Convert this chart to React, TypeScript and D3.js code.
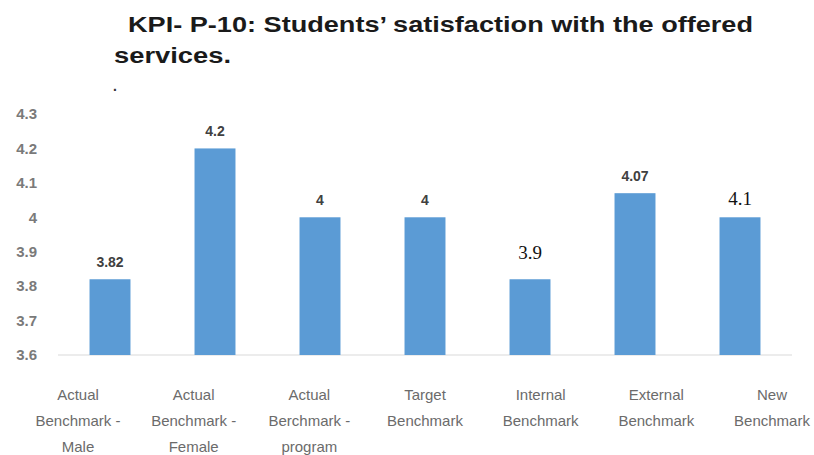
import React from "react";
import * as d3 from "d3";

const categories: string[][] = [
  ["Actual", "Benchmark -", "Male"],
  ["Actual", "Benchmark -", "Female"],
  ["Actual", "Berchmark -", "program"],
  ["Target", "Benchmark"],
  ["Internal", "Benchmark"],
  ["External", "Benchmark"],
  ["New", "Benchmark"],
];
const barValues: number[] = [3.82, 4.2, 4.0, 4.0, 3.82, 4.07, 4.0];
const labelTexts: string[] = ["3.82", "4.2", "4", "4", "3.9", "4.07", "4.1"];
const serifLabel: boolean[] = [false, false, false, false, true, false, true];
const yTicks: number[] = [3.6, 3.7, 3.8, 3.9, 4.0, 4.1, 4.2, 4.3];

export default function App() {
  const W = 814, H = 455;
  const idx = d3.range(categories.length);
  const x = d3.scaleBand<number>().domain(idx).range([57.5, 792.5]).paddingInner(0.61).paddingOuter(0.305);
  const xl = d3.scalePoint<number>().domain(idx).range([78, 772]);
  const y = d3.scaleLinear().domain([3.6, 4.3]).range([355, 114]);
  const fmt = (v: number) => (Number.isInteger(v) ? String(v) : v.toFixed(1));
  const sans = "Liberation Sans, Arial, sans-serif";
  return (
    <svg width={W} height={H} style={{ position: "absolute", left: 0, top: 0, background: "#fff" }}>
      <text x={128} y={32} fontFamily={sans} fontWeight="bold" fontSize={22} fill="#1a1a1a" textLength={625} lengthAdjust="spacingAndGlyphs">
        KPI- P-10: Students’ satisfaction with the offered
      </text>
      <text x={114} y={63} fontFamily={sans} fontWeight="bold" fontSize={22} fill="#1a1a1a" textLength={117} lengthAdjust="spacingAndGlyphs">
        services.
      </text>
      <text x={113} y={91} fontFamily={sans} fontWeight="bold" fontSize={14} fill="#333">.</text>
      {yTicks.map((t) => (
        <text key={t} x={37} y={y(t)} dy="0.35em" textAnchor="end" fontFamily={sans} fontWeight={600} fontSize={15} fill="#7a7a7a">
          {fmt(t)}
        </text>
      ))}
      <line x1={58} x2={792} y1={y(3.6)} y2={y(3.6)} stroke="#d9d9d9" strokeWidth={1.2} />
      {barValues.map((v, i) => (
        <rect key={i} x={x(i)!} y={y(v)} width={x.bandwidth()} height={y(3.6) - y(v)} fill="#5B9BD5" />
      ))}
      {barValues.map((v, i) =>
        serifLabel[i] ? (
          <text key={"l" + i} x={x(i)! + x.bandwidth() / 2} y={y(v) - (i === 4 ? 20 : 12)} textAnchor="middle" fontFamily="Liberation Serif, Times New Roman, serif" fontSize={19} fill="#111">
            {labelTexts[i]}
          </text>
        ) : (
          <text key={"l" + i} x={x(i)! + x.bandwidth() / 2} y={y(v) - 12} textAnchor="middle" fontFamily={sans} fontWeight="bold" fontSize={14} fill="#404040">
            {labelTexts[i]}
          </text>
        )
      )}
      {categories.map((lines, i) => (
        <text key={"c" + i} textAnchor="middle" fontFamily={sans} fontSize={15} fill="#6b6b6b">
          {lines.map((ln, j) => (
            <tspan key={j} x={xl(i)!} y={400 + j * 26}>{ln}</tspan>
          ))}
        </text>
      ))}
    </svg>
  );
}
